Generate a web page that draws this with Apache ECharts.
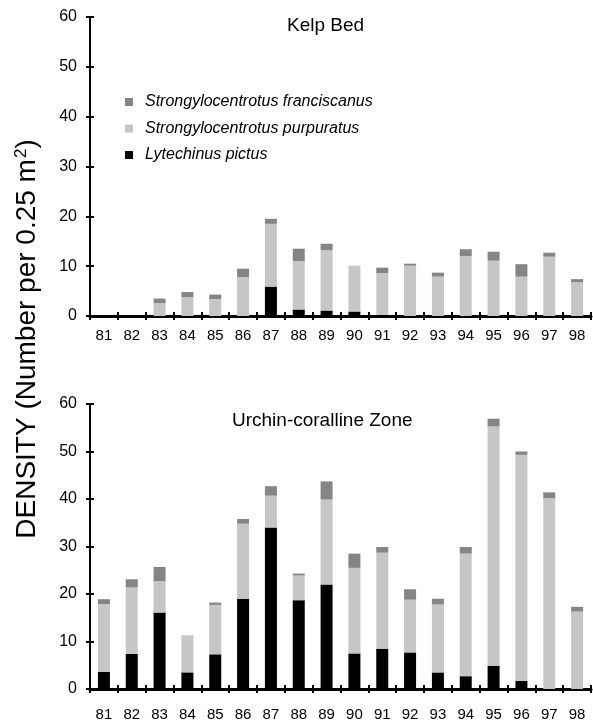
<!DOCTYPE html>
<html>
<head>
<meta charset="utf-8">
<script src="https://cdn.jsdelivr.net/npm/echarts@6/dist/echarts.min.js"></script>
<style>html,body{margin:0;padding:0;background:#fff;}#c{width:593px;height:724px;}</style>
</head>
<body>
<div id="c"></div>
<script>
var years = ['81','82','83','84','85','86','87','88','89','90','91','92','93','94','95','96','97','98'];
var yTicks = [0, 10, 20, 30, 40, 50, 60];
var seriesNames = ['Strongylocentrotus franciscanus', 'Strongylocentrotus purpuratus', 'Lytechinus pictus'];
var panelTitles = ['Kelp Bed', 'Urchin-coralline Zone'];

// Kelp Bed
var kelpLytechinus = [0,0,0,0,0,0,5.9,1.3,1.1,0.9,0.2,0,0,0,0,0,0,0];
var kelpPurpuratus = [0,0,2.6,3.8,3.4,7.8,12.6,9.7,12.1,9.2,8.4,10.1,7.9,12.0,11.1,7.9,11.9,6.8];
var kelpFranciscanus = [0,0,0.9,1.0,0.9,1.7,1.0,2.5,1.3,0,1.1,0.4,0.8,1.4,1.8,2.5,0.8,0.6];

// Urchin-coralline Zone
var urchinLytechinus = [3.6,7.4,16.1,3.5,7.3,19.0,34.0,18.7,22.0,7.5,8.5,7.7,3.5,2.7,4.9,1.7,0,0];
var urchinPurpuratus = [14.3,14.0,6.6,7.8,10.4,15.8,6.7,5.2,17.9,18.0,20.2,11.1,14.3,25.8,50.4,47.6,40.2,16.3];
var urchinFranciscanus = [1.0,1.7,3.0,0,0.5,1.0,2.0,0.4,3.8,3.0,1.2,2.2,1.2,1.4,1.6,0.7,1.2,1.0];

var FONT = '"Liberation Sans", Arial, sans-serif';
var colFran = '#858585', colPurp = '#c6c6c6', colLyte = '#000000';

function xAxisMain(gi, margin) {
  return {
    type: 'category', gridIndex: gi, data: years,
    axisLine: {lineStyle: {color: '#000', width: 3}},
    axisTick: {show: true, length: 4, lineStyle: {color: '#000', width: 2}},
    axisLabel: {color: '#000', fontSize: 15, fontFamily: FONT, margin: margin, interval: 0},
    splitLine: {show: false}
  };
}
function xAxisInner(gi) {
  return {
    type: 'category', gridIndex: gi, data: years, position: 'bottom',
    axisLine: {show: false},
    axisTick: {show: true, inside: true, length: 4, lineStyle: {color: '#000', width: 2}},
    axisLabel: {show: false}, splitLine: {show: false}
  };
}
function yAxisMain(gi) {
  return {
    type: 'value', gridIndex: gi, min: 0, max: 60, interval: 10,
    axisLine: {show: true, lineStyle: {color: '#000', width: 2}},
    axisTick: {show: true, length: 4, lineStyle: {color: '#000', width: 2}},
    axisLabel: {color: '#000', fontSize: 16, fontFamily: FONT, margin: 13},
    splitLine: {show: false}
  };
}
function yAxisInner(gi) {
  return {
    type: 'value', gridIndex: gi, min: 0, max: 60, interval: 10, position: 'left',
    axisLine: {show: false},
    axisTick: {show: true, inside: true, length: 4, lineStyle: {color: '#000', width: 2}},
    axisLabel: {show: false}, splitLine: {show: false}
  };
}
function barSeries(name, data, color, xi, yi) {
  return {
    name: name, type: 'bar', stack: 's' + xi, data: data,
    xAxisIndex: xi, yAxisIndex: yi, barWidth: 12,
    itemStyle: {color: color}, silent: true
  };
}

var chart = echarts.init(document.getElementById('c'), null, {renderer: 'canvas'});
chart.setOption({
  animation: false,
  backgroundColor: '#fff',
  title: [
    {text: panelTitles[0], left: 287, top: 16, padding: 0, textStyle: {fontSize: 19, fontWeight: 'normal', color: '#000', fontFamily: FONT}},
    {text: panelTitles[1], left: 232, top: 411, padding: 0, textStyle: {fontSize: 19, fontWeight: 'normal', color: '#000', fontFamily: FONT}}
  ],
  legend: {
    orient: 'vertical', left: 125, top: 94, padding: 0, itemWidth: 8, itemHeight: 8, itemGap: 10.5,
    data: seriesNames.map(function (n) { return {name: n, icon: 'rect'}; }),
    textStyle: {fontSize: 16, fontStyle: 'italic', color: '#000', fontFamily: FONT, lineHeight: 16, padding: [0, 0, 0, 7]},
    selectedMode: false
  },
  grid: [
    {left: 90, top: 17, width: 501, height: 299},
    {left: 90, top: 404, width: 501, height: 285}
  ],
  xAxis: [xAxisMain(0, 12), xAxisMain(1, 18), xAxisInner(0), xAxisInner(1)],
  yAxis: [yAxisMain(0), yAxisMain(1), yAxisInner(0), yAxisInner(1)],
  series: [
    barSeries(seriesNames[2], kelpLytechinus, colLyte, 0, 0),
    barSeries(seriesNames[1], kelpPurpuratus, colPurp, 0, 0),
    barSeries(seriesNames[0], kelpFranciscanus, colFran, 0, 0),
    barSeries(seriesNames[2], urchinLytechinus, colLyte, 1, 1),
    barSeries(seriesNames[1], urchinPurpuratus, colPurp, 1, 1),
    barSeries(seriesNames[0], urchinFranciscanus, colFran, 1, 1)
  ],
  graphic: [{
    type: 'text', x: 27, y: 339, rotation: Math.PI / 2,
    style: {
      text: 'DENSITY (Number per 0.25 m{sup|2})',
      fontSize: 28, fontFamily: FONT, fill: '#000',
      align: 'center', verticalAlign: 'middle',
      rich: {sup: {fontSize: 17, fontFamily: FONT, fill: '#000', padding: [0, 0, 12, 1]}}
    }
  }]
});
</script>
</body>
</html>
